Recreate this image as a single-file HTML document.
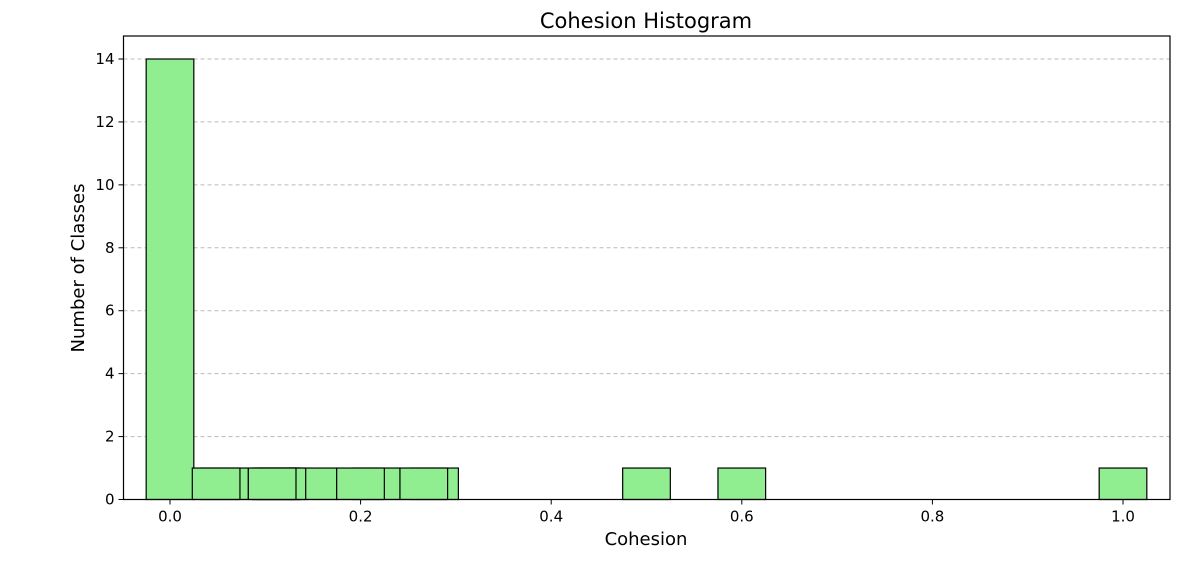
<!DOCTYPE html>
<html><head><meta charset="utf-8"><style>
body{margin:0;background:#fff;}
text{font-family:"DejaVu Sans","Liberation Sans",sans-serif;}
</style></head>
<body>
<svg id="chart" width="1184" height="568" xmlns="http://www.w3.org/2000/svg">
<text x="646" y="28" text-anchor="middle" font-size="21">Cohesion Histogram</text>
<text x="646" y="545" text-anchor="middle" font-size="18">Cohesion</text>
<text transform="translate(84,268) rotate(-90)" text-anchor="middle" font-size="18">Number of Classes</text>
<g id="grid"></g><g id="bars"></g><g id="axes"></g>
</svg>
<script>
const binCenters = [0.0, 0.0572, 0.150, 0.1104, 0.1122, 0.1174, 0.2164, 0.2776, 0.0484, 0.1072, 0.1999, 0.2663, 0.5, 0.6, 1.0];
const binCounts  = [14, 1, 1, 1, 1, 1, 1, 1, 1, 1, 1, 1, 1, 1, 1];
const barWidth = 0.05;
const xTicks = [0.0, 0.2, 0.4, 0.6, 0.8, 1.0];
const yTicks = [0, 2, 4, 6, 8, 10, 12, 14];

const L=123.5,R=1170,T=36,B=499.5;
const x=v=>170+v*953;
const y=v=>B-v*(B-59)/14;
const NS="http://www.w3.org/2000/svg";
function mk(tag,attrs,parent){const e=document.createElementNS(NS,tag);for(const k in attrs)e.setAttribute(k,attrs[k]);parent.appendChild(e);return e;}
const grid=document.getElementById('grid'),bars=document.getElementById('bars'),axes=document.getElementById('axes');
yTicks.forEach(t=>{
  if(t>0){const g=mk('line',{x1:L,x2:R,y1:y(t),y2:y(t),stroke:'#bbb','stroke-dasharray':'4,3','stroke-width':1},grid);
  
  }
  const tk=mk('line',{x1:L-5,x2:L,y1:y(t),y2:y(t),stroke:'#000'},axes);
  
  
  const lb=mk('text',{x:L-9,y:y(t)+5,'text-anchor':'end','font-size':15},axes);lb.textContent=t;
  
  
});
xTicks.forEach(t=>{
  const tk=mk('line',{x1:x(t),x2:x(t),y1:B,y2:B+5,stroke:'#000'},axes);
  
  
  const lb=mk('text',{x:x(t),y:B+22,'text-anchor':'middle','font-size':15},axes);lb.textContent=t.toFixed(1);
  
  
});
binCenters.forEach((c,i)=>{
  const x0=x(c-barWidth/2),x1=x(c+barWidth/2);
  const r=mk('rect',{x:x0,y:y(binCounts[i]),width:x1-x0,height:B-y(binCounts[i]),fill:'#90ee90',stroke:'#000','stroke-width':1.2},bars);
  
  
});
const fr=mk('rect',{x:L,y:T,width:R-L,height:B-T,fill:'none',stroke:'#000','stroke-width':1.2},axes);


</script>
</body></html>
